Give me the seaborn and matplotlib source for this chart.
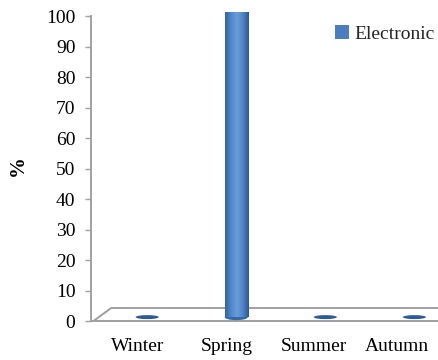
import numpy as np
import pandas as pd
import seaborn as sns
import matplotlib
matplotlib.use("Agg")
import matplotlib.pyplot as plt
import matplotlib.transforms as mtransforms
from matplotlib.patches import Ellipse, Patch
from matplotlib.colors import LinearSegmentedColormap

# Share of electronic records per season (%)
seasons = ["Winter", "Spring", "Summer", "Autumn"]
electronic = [0, 100, 0, 0]
yticks = list(range(0, 101, 10))
series_name = "Electronic"

sns.set_theme(style="white")
plt.rcParams["font.family"] = ["Liberation Serif", "DejaVu Serif"]

bar_color = "#4a7ebf"
cap_color = "#6a9bd8"
flat_color = "#2d5b99"
frame_gray = "#a0a0a0"
fs = 14

fig = plt.figure(figsize=(4.38, 3.6), dpi=100)
ax = fig.add_axes([0.207, 0.108, 0.793, 0.847])

df = pd.DataFrame({"season": seasons, "value": electronic})
sns.barplot(data=df, x="season", y="value", color=bar_color, saturation=1,
            width=0.26, ax=ax, zorder=3)

xlim = (-0.635, 3.265)
ax.set_xlim(*xlim)
ax.set_ylim(0, 100)

# bars stand a few pixels back on the floor
lift = mtransforms.offset_copy(ax.transData, fig=fig, x=0, y=4, units="dots")

shade = LinearSegmentedColormap.from_list(
    "cyl", ["#34629f", "#5088c9", "#6b9dda", "#4f84c6", "#2c5894"])
grad = np.linspace(0, 1, 64).reshape(1, -1)
cap_h = 2.0

for patch, val in zip(ax.patches, electronic):
    x0 = patch.get_x()
    w = patch.get_width()
    h = patch.get_height()
    cx = x0 + w / 2
    if h > 0:
        patch.set_transform(lift)
        patch.set_edgecolor("none")
        # bottom rim of the cylinder
        ax.add_patch(Ellipse((cx, 0), w, cap_h, transform=lift,
                             facecolor="#3568a8", edgecolor="none", zorder=2.9))
        im = ax.imshow(grad, extent=[x0, x0 + w, 0, h], aspect="auto",
                       cmap=shade, transform=lift, zorder=3.1,
                       interpolation="bicubic")
        im.set_clip_path(patch)
        # top cap
        ax.add_patch(Ellipse((cx, h), w, cap_h, transform=lift,
                             facecolor=cap_color, edgecolor="#3a6aa8",
                             linewidth=0.6, zorder=3.3))
    else:
        patch.set_visible(False)
        ax.add_patch(Ellipse((cx, 0), w, 1.3, transform=lift,
                             facecolor=flat_color, edgecolor="none", zorder=3))

ax.set_xlim(*xlim)
ax.set_ylim(0, 100)

# floor of the plot area
floor_back = 4.3
ax.plot([xlim[0] + 0.03, xlim[0] + 0.23, xlim[1] + 0.2],
        [0, floor_back, floor_back], color=frame_gray, lw=1.4,
        clip_on=False, zorder=1, solid_joinstyle="miter")

for side in ["top", "right"]:
    ax.spines[side].set_visible(False)
for side in ["left", "bottom"]:
    ax.spines[side].set_color(frame_gray)
    ax.spines[side].set_linewidth(1.4)

ax.set_yticks(yticks)
ax.set_yticklabels([str(t) for t in yticks])
ax.tick_params(axis="y", length=4, width=1, color=frame_gray, pad=7,
               labelsize=fs, labelcolor="black", left=True)
ax.tick_params(axis="x", length=0, pad=12, labelsize=fs, labelcolor="black")

# category labels sit slightly left of the bars (perspective)
label_shift = [-10, -10, -11, -18]
for lab, dx in zip(ax.get_xticklabels(), label_shift):
    lab.set_transform(lab.get_transform() + mtransforms.ScaledTranslation(
        dx / fig.dpi, 0, fig.dpi_scale_trans))

ax.set_xlabel("")
ax.set_ylabel("%", fontsize=fs + 1, fontweight="bold", color="black")
ax.yaxis.set_label_coords(-0.18, 0.51)

ax.legend(handles=[Patch(facecolor=bar_color, edgecolor="none", label=series_name)],
          loc="upper left", bbox_to_anchor=(0.765, 0.93),
          bbox_transform=fig.transFigure, frameon=False, fontsize=fs,
          handlelength=0.7, handleheight=0.7, handletextpad=0.3,
          borderaxespad=0, borderpad=0)

fig.savefig("out.png", dpi=100)
